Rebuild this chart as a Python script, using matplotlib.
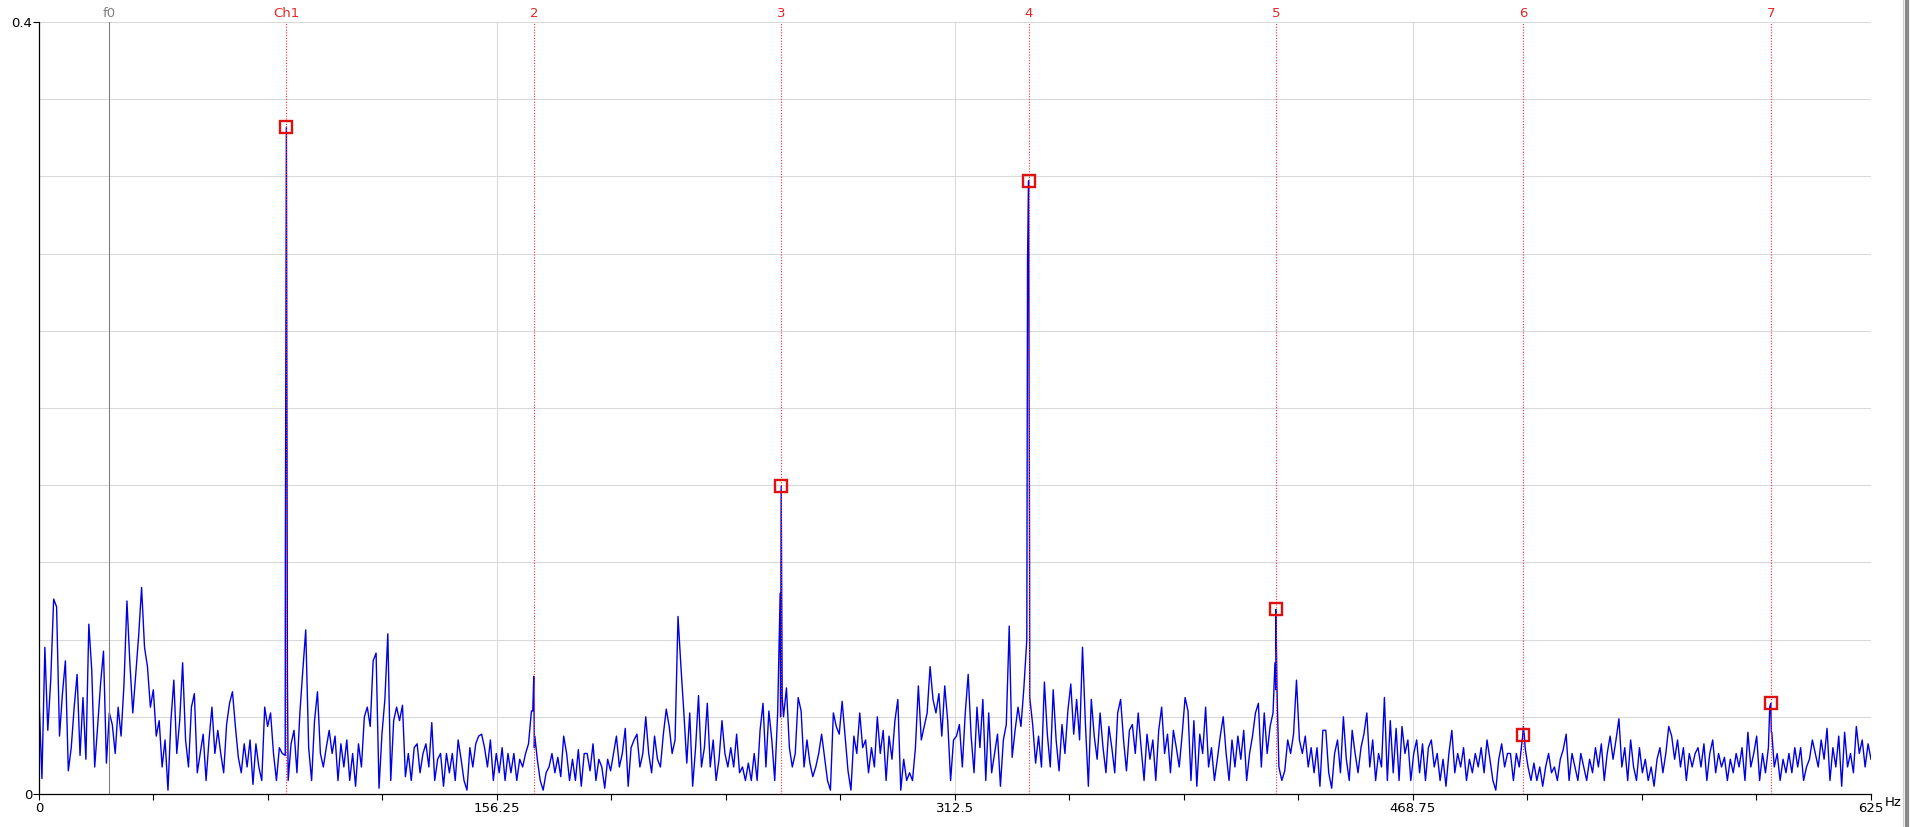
import numpy as np
import matplotlib
matplotlib.use('Agg')
import matplotlib.pyplot as plt
from matplotlib.ticker import MultipleLocator
from matplotlib.lines import Line2D

# noise floor of the spectrum, one value per Hz (0..625 Hz), in 1/1000 units
noise_milli = [
    50, 8, 76, 33, 59, 101, 97, 30, 52, 69, 12, 24, 45, 62, 20, 50, 18, 88, 64, 14, 35, 57, 74, 16, 42,
    36, 21, 45, 30, 57, 100, 68, 42, 62, 82, 107, 76, 66, 45, 54, 30, 38, 14, 28, 2, 38, 59, 21, 38, 68,
    28, 14, 45, 52, 11, 21, 31, 7, 28, 45, 21, 33, 21, 11, 36, 47, 53, 35, 19, 11, 26, 14, 28, 5, 26,
    14, 7, 45, 35, 42, 21, 7, 24, 21, 20, 7, 26, 33, 11, 42, 64, 85, 24, 7, 38, 53, 21, 14, 24, 33,
    21, 30, 7, 26, 14, 28, 7, 21, 4, 26, 14, 40, 45, 35, 69, 73, 3, 31, 49, 83, 7, 38, 45, 38, 46,
    9, 21, 7, 24, 26, 11, 21, 26, 14, 37, 7, 18, 21, 4, 21, 11, 21, 7, 28, 18, 7, 2, 24, 14, 26,
    30, 31, 24, 14, 28, 7, 21, 11, 24, 7, 21, 11, 21, 7, 18, 14, 21, 26, 43, 24, 18, 7, 2, 11, 14,
    21, 11, 19, 9, 30, 21, 7, 18, 7, 23, 4, 21, 21, 12, 26, 7, 18, 14, 3, 18, 12, 21, 30, 14, 21,
    34, 4, 24, 28, 31, 14, 21, 40, 21, 11, 30, 18, 14, 31, 44, 35, 21, 28, 92, 66, 42, 16, 42, 4, 24,
    51, 14, 24, 47, 14, 28, 7, 18, 38, 21, 14, 24, 14, 31, 11, 14, 7, 16, 7, 21, 7, 33, 47, 14, 43,
    28, 7, 42, 40, 40, 55, 24, 14, 21, 50, 43, 14, 28, 16, 9, 14, 21, 31, 19, 7, 2, 42, 35, 31, 48,
    30, 12, 2, 30, 21, 42, 24, 28, 11, 24, 14, 40, 21, 33, 7, 30, 18, 38, 49, 2, 18, 7, 11, 7, 24,
    56, 28, 35, 42, 66, 49, 42, 52, 30, 56, 38, 7, 28, 30, 36, 14, 42, 62, 30, 11, 45, 24, 49, 7, 42,
    11, 21, 31, 4, 28, 36, 87, 19, 33, 45, 35, 55, 80, 50, 36, 16, 30, 14, 58, 31, 14, 54, 28, 12, 36,
    21, 43, 57, 31, 49, 28, 76, 36, 4, 49, 30, 18, 42, 24, 11, 35, 24, 11, 42, 49, 28, 12, 33, 36, 21,
    42, 24, 7, 31, 18, 28, 7, 33, 45, 21, 31, 11, 33, 24, 14, 31, 50, 43, 7, 38, 4, 31, 21, 45, 14,
    24, 7, 18, 30, 40, 21, 7, 28, 14, 30, 18, 33, 7, 21, 30, 42, 47, 14, 42, 21, 35, 42, 54, 14, 7,
    12, 28, 21, 31, 59, 28, 21, 30, 14, 24, 11, 24, 4, 33, 33, 11, 3, 21, 28, 11, 40, 18, 7, 33, 21,
    11, 24, 31, 42, 14, 28, 7, 21, 14, 50, 7, 38, 11, 34, 7, 35, 21, 28, 7, 21, 28, 11, 26, 7, 24,
    28, 14, 21, 7, 18, 4, 21, 33, 11, 21, 14, 24, 7, 18, 11, 21, 14, 24, 11, 28, 18, 7, 2, 18, 26,
    14, 21, 21, 7, 21, 14, 28, 24, 14, 7, 16, 7, 14, 4, 14, 21, 11, 14, 7, 18, 23, 31, 7, 21, 14,
    7, 21, 14, 7, 18, 11, 24, 14, 26, 7, 21, 30, 18, 28, 39, 14, 24, 7, 28, 14, 7, 24, 11, 18, 7,
    14, 4, 18, 24, 11, 21, 35, 30, 18, 28, 14, 24, 7, 21, 14, 21, 24, 14, 26, 7, 21, 28, 11, 21, 14,
    19, 7, 18, 11, 21, 14, 24, 7, 32, 14, 21, 30, 7, 21, 11, 24, 32, 14, 21, 7, 18, 11, 21, 11, 24,
    14, 24, 7, 14, 18, 28, 21, 14, 28, 18, 34, 7, 24, 14, 30, 4, 32, 14, 21, 11, 35, 21, 28, 14, 26, 18,
]
freq_step = 1.0  # Hz per noise value

# harmonic cursors
harm_labels = ['Ch1', '2', '3', '4', '5', '6', '7']
harm_hz = [84.4, 168.8, 253.2, 337.6, 422.0, 506.4, 590.8]
peak_amp = [0.3456, 0.061, 0.1595, 0.3177, 0.0956, 0.035, 0.047]
left_bin_amp = [0.122, 0.043, 0.104, 0.277, 0.068, 0.028, 0.045]
right_bin_amp = [0.060, 0.030, 0.050, 0.116, 0.054, 0.030, 0.032]
marker_amp = [0.3456, np.nan, 0.1595, 0.3177, 0.0956, 0.0305, 0.0469]

f0_hz = 23.8

x_ticks = [0, 156.25, 312.5, 468.75, 625]
x_ticklabels = ['0', '156.25', '312.5', '468.75', '625']
y_ticks = [0, 0.4]
y_ticklabels = ['0', '0.4']

# build the line: noise bins plus the bins around each harmonic
freq = np.arange(len(noise_milli)) * freq_step
amp = np.array(noise_milli) / 1000.0
hh = np.array(harm_hz)
xs = np.concatenate([freq, hh - 0.35, hh, hh + 0.35])
ys = np.concatenate([amp, left_bin_amp, peak_amp, right_bin_amp])
order = np.argsort(xs, kind='stable')
xs = xs[order]
ys = ys[order]

plt.rcParams['font.family'] = ['DejaVu Sans']
fig = plt.figure(figsize=(19.15, 8.27), dpi=100)
ax = fig.add_axes([39 / 1915, 1 - 794 / 827, (1871 - 39) / 1915, (794 - 22) / 827])

ax.plot(xs, ys, color='#0000e6', lw=1.0, zorder=3)

# cursors
ax.axvline(f0_hz, color='#808080', lw=0.8, zorder=4)
ax.text(f0_hz, 1.003, 'f0', color='#808080', fontsize=9.5, ha='center', va='bottom',
        transform=ax.get_xaxis_transform())
for lbl, h in zip(harm_labels, harm_hz):
    ax.axvline(h, color='#ff2a2a', lw=0.8, ls=(0, (1, 1.5)), zorder=4)
    ax.text(h, 1.003, lbl, color='#e02828', fontsize=9.5, ha='center', va='bottom',
            transform=ax.get_xaxis_transform())
ax.plot(harm_hz, marker_amp, ls='none', marker='s', ms=8, mfc='none', mec='#e01010',
        mew=1.7, zorder=5)

ax.set_xlim(0, 625)
ax.set_ylim(0, 0.4)
ax.set_xticks(x_ticks)
ax.set_xticklabels(x_ticklabels)
ax.xaxis.set_minor_locator(MultipleLocator(625 / 16))
ax.set_yticks(y_ticks)
ax.set_yticklabels(y_ticklabels)
ax.yaxis.set_minor_locator(MultipleLocator(0.04))
ax.tick_params(axis='x', which='both', length=4, width=0.8, labelsize=9.5, pad=2, color='black')
ax.tick_params(axis='y', which='major', length=4, width=0.8, labelsize=9.5, pad=1)
ax.tick_params(axis='y', which='minor', length=0)

ax.grid(True, axis='x', which='major', color='#d8d8d8', lw=0.75)
ax.grid(True, axis='y', which='both', color='#d8d8d8', lw=0.75)
ax.set_axisbelow(True)

for s in ['top', 'right']:
    ax.spines[s].set_visible(False)
for s in ['left', 'bottom']:
    ax.spines[s].set_color('black')
    ax.spines[s].set_linewidth(0.9)
    ax.spines[s].set_zorder(6)

fig.text(1893 / 1915, 1 - 802 / 827, 'Hz', fontsize=9.5, ha='center', va='center')

# window border at the right
fig.add_artist(Line2D([1907 / 1915, 1907 / 1915], [0, 1], color='#8a8a8a', lw=3))
fig.add_artist(Line2D([1903 / 1915, 1903 / 1915], [0, 1], color='#d0d0d0', lw=1))

fig.savefig('out.png', dpi=100)
